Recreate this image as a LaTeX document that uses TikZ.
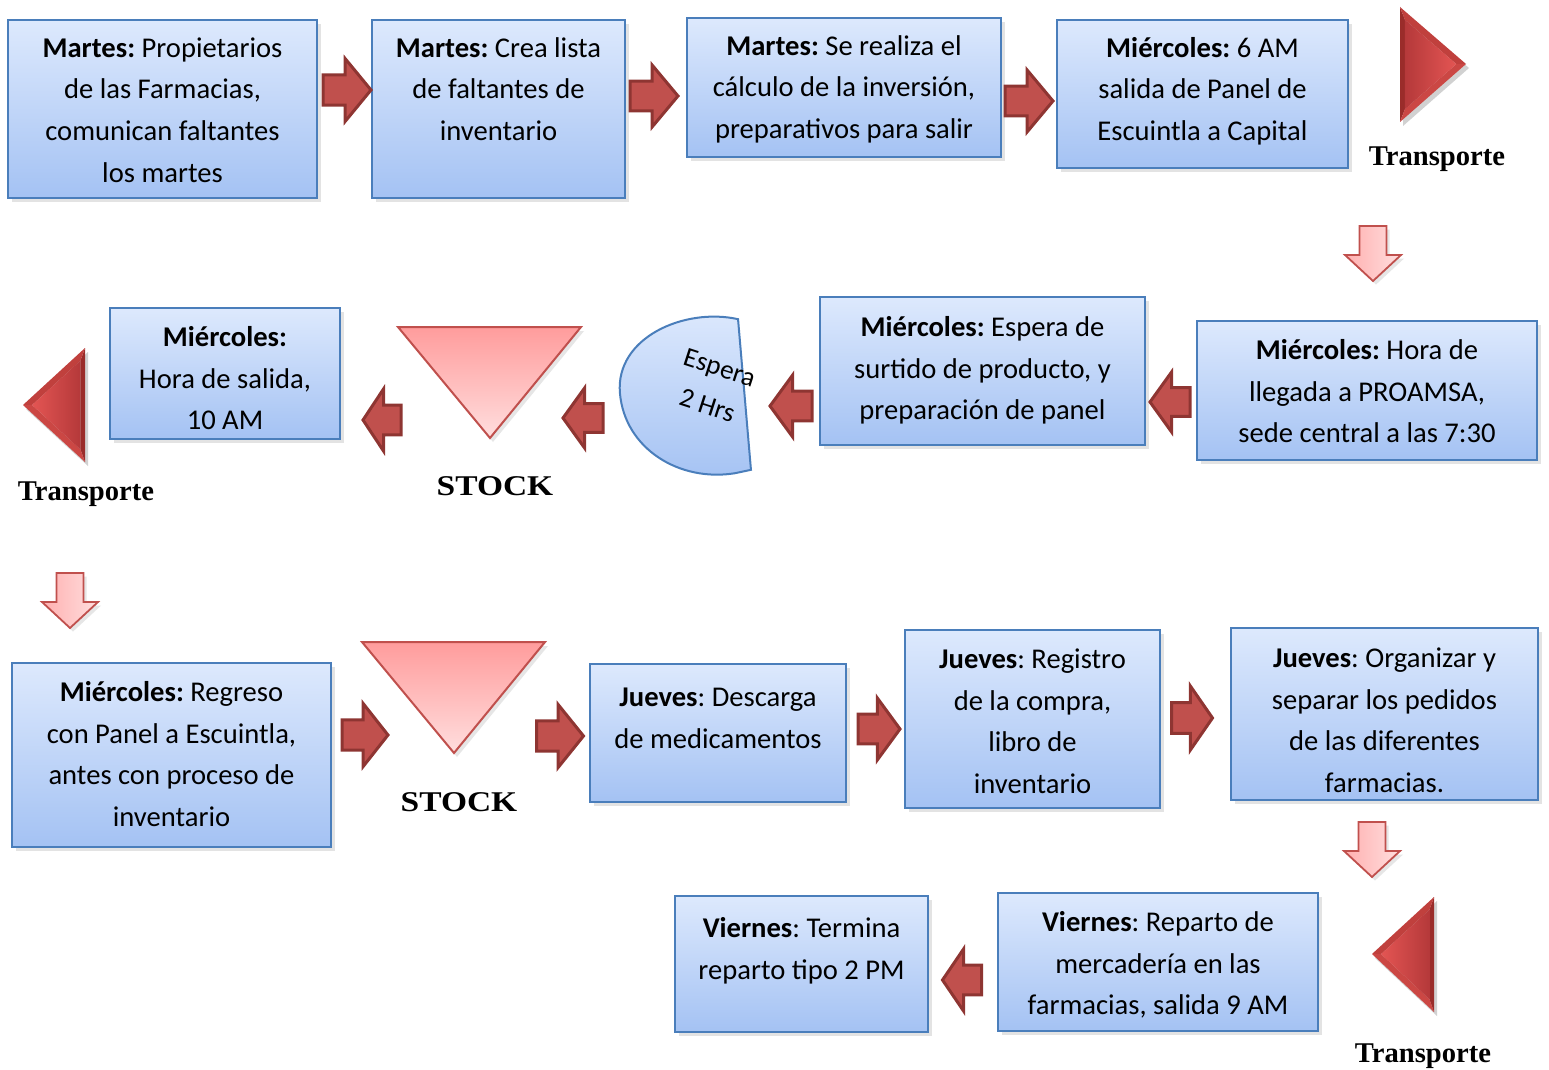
\documentclass[tikz,border=0pt]{standalone}
\usepackage{fontspec}
\usepackage{graphicx}
\setmainfont{Carlito}
\newfontfamily\labelserif{Liberation Serif}
\usetikzlibrary{shadows,calc}
\frenchspacing

\definecolor{boxtop}{HTML}{DDE9FD}
\definecolor{boxbot}{HTML}{A4C2F3}
\definecolor{boxline}{HTML}{4A7EBB}
\definecolor{arrfill}{HTML}{C0504D}
\definecolor{arrline}{HTML}{8E3532}
\definecolor{pinktop}{HTML}{FF9C9C}
\definecolor{pinkbot}{HTML}{FFDEDE}
\definecolor{pinkline}{HTML}{C0504D}
\definecolor{trbase}{HTML}{9A2C2A}
\definecolor{trtopface}{HTML}{C0403D}
\definecolor{trbotface}{HTML}{CB4744}
\definecolor{trdark}{HTML}{B5393A}
\definecolor{trlight}{HTML}{E35553}

\tikzset{
  procbox/.style={draw=boxline, line width=1pt, top color=boxtop, bottom color=boxbot,
    inner sep=0pt, outer sep=0pt,
    drop shadow={shadow xshift=1.8pt, shadow yshift=-1.8pt, opacity=0.22}},
  boxtext/.style={anchor=north, align=center, inner sep=0pt,
    font=\fontsize{14.3}{20.8}\selectfont},
  darrow/.style={fill=arrfill, draw=arrline, line width=1.5pt, line join=miter},
  parrow/.style={left color=pinktop!80!white, right color=pinkbot, draw=pinkline, line width=0.9pt,
    drop shadow={shadow xshift=1.5pt, shadow yshift=-1.8pt, opacity=0.2}},
  stocktri/.style={top color=pinktop, bottom color=pinkbot, draw=pinkline, line width=1pt,
    line join=miter,
    drop shadow={shadow xshift=1.5pt, shadow yshift=-2pt, opacity=0.2}},
  trlabel/.style={anchor=base, inner sep=0pt, font=\labelserif\bfseries\fontsize{14.3}{16}\selectfont},
  esptext/.style={inner sep=0pt, align=center, font=\fontsize{13.6}{20}\selectfont},
  dshape/.style={draw=boxline, line width=1pt, top color=boxtop, bottom color=boxbot}
}

% process box: name, x1, y1, x2, y2, baseline of first line, text
\newcommand\procbox[7]{%
  \node[procbox, minimum width={(#4-#2)*0.5pt}, minimum height={(#5-#3)*0.5pt}]
    (#1) at ({(#2+#4)/2},{(#3+#5)/2}) {};
  \node[boxtext] (#1t) at ({(#2+#4)/2},{#6-25}) {\rule{0pt}{12.5pt}#7};
}

% dark block arrow: centre x, centre y, angle, length, height
\newcommand\blockarr[5]{%
  \draw[darrow, shift={(#1,#2)}, rotate=#3]
    ({-#4/2},{-0.24*#5}) -- ({#4/2-0.54*#4},{-0.24*#5}) -- ({#4/2-0.54*#4},{-#5/2})
    -- ({#4/2},0) -- ({#4/2-0.54*#4},{#5/2}) -- ({#4/2-0.54*#4},{0.24*#5})
    -- ({-#4/2},{0.24*#5}) -- cycle;
}

% pale downward block arrow: centre x, top y
\newcommand\downarr[2]{%
  \draw[parrow, shift={(#1,#2)}]
    (-13.5,0) -- (13.5,0) -- (13.5,29) -- (28,29) -- (0,55) -- (-28,29) -- (-13.5,29) -- cycle;
}

% bevelled transport triangle: prefix, base end a, base end b, tip, inner shading
\newcommand\transp[8]{%
  \fill[black, opacity=0.18] ({#2+3},{#3+4}) -- ({#4+3},{#5+4}) -- ({#6+3},{#7+4}) -- cycle;
  \coordinate (#1a) at (#2,#3);
  \coordinate (#1b) at (#4,#5);
  \coordinate (#1t) at (#6,#7);
  \coordinate (#1g) at ($1/3*(#1a)+1/3*(#1b)+1/3*(#1t)$);
  \coordinate (#1ia) at ($(#1g)!0.78!(#1a)$);
  \coordinate (#1ib) at ($(#1g)!0.78!(#1b)$);
  \coordinate (#1it) at ($(#1g)!0.78!(#1t)$);
  \fill[trbase] (#1a) -- (#1b) -- (#1ib) -- (#1ia) -- cycle;
  \fill[trtopface] (#1a) -- (#1t) -- (#1it) -- (#1ia) -- cycle;
  \fill[trbotface] (#1b) -- (#1t) -- (#1it) -- (#1ib) -- cycle;
  \shade[#8] (#1ia) -- (#1ib) -- (#1it) -- cycle;
}

\begin{document}
\begin{tikzpicture}[x=0.5pt,y=-0.5pt]
\useasboundingbox (0,0) rectangle (1549,1070);

% ---- row 1 ----
\procbox{b1}{8}{20}{317}{198}{57}{\textbf{Martes:} Propietarios\\de las Farmacias,\\comunican faltantes\\los martes}
\procbox{b2}{372}{20}{625}{198}{57}{\textbf{Martes:} Crea lista\\de faltantes de\\inventario}
\procbox{b3}{687}{18}{1001}{157}{55}{\textbf{Martes:} Se realiza el\\cálculo de la inversión,\\preparativos para salir}
\procbox{b4}{1057}{20}{1348}{168}{57}{\textbf{Miércoles:} 6 AM\\salida de Panel de\\Escuintla a Capital}
\blockarr{347}{90}{0}{48}{63}
\blockarr{654}{96}{0}{48}{62}
\blockarr{1029}{101}{0}{48}{62}
\transp{tra}{1400}{7}{1400}{122}{1466}{64}{left color=trdark, right color=trlight}
\node[trlabel] (tr1) at (1437,166) {Transporte};
\downarr{1373}{226}

% ---- row 2 ----
\procbox{b5}{1197}{321}{1537}{460}{359}{\textbf{Miércoles:} Hora de\\llegada a PROAMSA,\\sede central a las 7:30}
\procbox{b6}{820}{297}{1145}{445}{336}{\textbf{Miércoles:} Espera de\\surtido de producto, y\\preparación de panel}
\procbox{b7}{110}{308}{340}{439}{346}{\textbf{Miércoles:}\\Hora de salida,\\10 AM}
\blockarr{1170}{402}{180}{40}{60}
\blockarr{791}{406}{180}{42}{62}
\blockarr{583}{418}{180}{40}{60}
\blockarr{382}{420}{180}{38}{62}
% waiting (delay) symbol: flat side on the right, rounded side on the left
\begin{scope}[shift={(744.5,394.5)}, rotate=4.9]
  \draw[dshape] (0pt,37.8pt)
    .. controls (-26pt,46pt) and (-62pt,34pt) .. (-62pt,6pt)
    .. controls (-62pt,-22pt) and (-36pt,-41pt) .. (-8pt,-38.8pt)
    -- (0pt,-37.8pt) -- cycle;
\end{scope}
\node[esptext, rotate=-18] (esp) at (713.5,386.5) {Espera\\2 Hrs};
% stock
\draw[stocktri] (398,327) -- (581,327) -- (490,438) -- cycle;
\node[trlabel] (st1) at (495,495) {\scalebox{1.17}[1]{STOCK}};
\transp{trb}{85}{348}{85}{462}{23}{405}{left color=trlight, right color=trdark}
\node[trlabel] (tr2) at (86,500) {Transporte};
\downarr{70}{573}

% ---- row 3 ----
\procbox{b8}{12}{663}{331}{847}{701}{\textbf{Miércoles:} Regreso\\con Panel a Escuintla,\\antes con proceso de\\inventario}
\draw[stocktri] (362,642) -- (545,642) -- (454,753) -- cycle;
\node[trlabel] (st2) at (459,811) {\scalebox{1.17}[1]{STOCK}};
\procbox{b9}{590}{664}{846}{802}{706}{\textbf{Jueves}: Descarga\\de medicamentos}
\procbox{b10}{905}{630}{1160}{808}{668}{\textbf{Jueves}: Registro\\de la compra,\\libro de\\inventario}
\procbox{b11}{1231}{628}{1538}{800}{667}{\textbf{Jueves}: Organizar y\\separar los pedidos\\de las diferentes\\farmacias.}
\blockarr{365}{735}{0}{46}{63}
\blockarr{560}{736}{0}{47}{63}
\blockarr{879}{729}{0}{42}{62}
\blockarr{1192}{718}{0}{41}{64}
\downarr{1372}{822}

% ---- row 4 ----
\transp{trc}{1434}{897}{1434}{1012}{1372}{954}{left color=trlight, right color=trdark}
\node[trlabel] (tr3) at (1423,1062) {Transporte};
\procbox{b12}{998}{893}{1318}{1031}{931}{\textbf{Viernes}: Reparto de\\mercadería en las\\farmacias, salida 9 AM}
\procbox{b13}{675}{896}{928}{1032}{937}{\textbf{Viernes}: Termina\\reparto tipo 2 PM}
\blockarr{962}{980}{180}{39}{62}
\end{tikzpicture}
\end{document}
